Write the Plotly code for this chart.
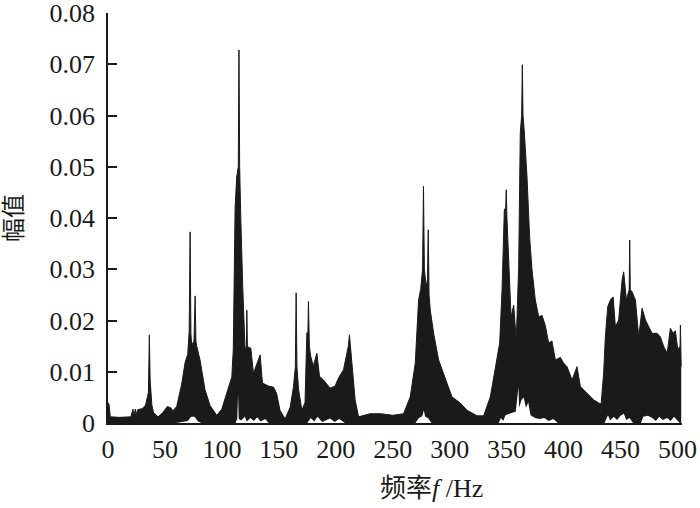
import plotly.graph_objects as go

OUTPUT_HTML = "out.html"

# upper envelope of the amplitude spectrum
freq_hz = [
    0, 1, 2, 10, 20, 22, 22.5, 24, 24.5, 26, 30, 33, 35.5, 36.3, 37, 37.5, 38.5,
    40, 44, 48, 52, 55, 57, 60.3, 64.7, 67.7, 70, 71.3, 72.1, 72.8, 73.5, 75.5,
    76.5, 77.2, 77.9, 80.8, 85.2, 89.6, 95.5, 99.9, 105.4, 108.7, 110, 111.6,
    113, 114.4, 115, 115.6, 116.6, 117.5, 118.3, 120.4, 121.5, 121.9, 122.4,
    123.3, 125.4, 127.7, 130.6, 133.6, 135.6, 140.9, 145.3, 148, 151, 155.5,
    160, 162.8, 164.5, 165.2, 165.9, 167.3, 170.2, 173, 174.6, 175.5, 176,
    176.8, 178, 180.3, 183.4, 185.7, 189.2, 195, 199.4, 202.4, 206.8, 211, 212,
    212.8, 214, 217, 220, 230, 240, 250, 259.5, 265.4, 269.8, 272.7, 274.6,
    276.2, 277, 277.8, 279.4, 280.5, 281.2, 281.9, 283, 285.9, 290.3, 292.3,
    297.6, 302, 309.3, 315.2, 324, 329.8, 335.7, 340, 343.9, 346, 348, 349.2,
    349.7, 350.3, 351.8, 353.9, 356.2, 358.5, 360.6, 362, 363.2, 363.8, 364.4,
    365.6, 367.9, 370.2, 372.3, 375.2, 378.2, 381.1, 384, 386.9, 389.8, 392.8,
    397.2, 400, 403, 407.5, 411.8, 414.8, 420.6, 426.5, 430.9, 433, 435.2,
    436.7, 438.8, 441.1, 443.5, 445.5, 448.4, 451.4, 452.8, 455.2, 457.6,
    458.1, 458.6, 460.2, 463.1, 466, 469, 471.9, 474.8, 477.7, 482.1, 485, 488,
    491, 493.8, 496.2, 498.2, 500.3, 502.3, 502.6, 503.3,
]
amplitude = [
    0.0040, 0.0035, 0.0012, 0.0011, 0.0012, 0.0027, 0.0013, 0.0027, 0.0015,
    0.0026, 0.0028, 0.0035, 0.0060, 0.0172, 0.0084, 0.0060, 0.0035, 0.0020,
    0.0012, 0.0020, 0.0032, 0.0030, 0.0024, 0.0032, 0.0076, 0.0118, 0.0134,
    0.0180, 0.0373, 0.0175, 0.0152, 0.0160, 0.0248, 0.0160, 0.0150, 0.0123,
    0.0065, 0.0034, 0.0015, 0.0027, 0.0065, 0.0090, 0.0143, 0.0420, 0.0480,
    0.0500, 0.0728, 0.0500, 0.0400, 0.0290, 0.0266, 0.0142, 0.0150, 0.0220,
    0.0150, 0.0148, 0.0146, 0.0097, 0.0117, 0.0133, 0.0078, 0.0072, 0.0070,
    0.0058, 0.0025, 0.0008, 0.0031, 0.0070, 0.0110, 0.0254, 0.0110, 0.0066,
    0.0025, 0.0040, 0.0176, 0.0176, 0.0237, 0.0150, 0.0130, 0.0111, 0.0136,
    0.0091, 0.0084, 0.0068, 0.0072, 0.0088, 0.0104, 0.0150, 0.0172, 0.0150,
    0.0123, 0.0045, 0.0012, 0.0018, 0.0018, 0.0015, 0.0018, 0.0051, 0.0117,
    0.0240, 0.0262, 0.0300, 0.0462, 0.0300, 0.0266, 0.0280, 0.0377, 0.0250,
    0.0220, 0.0175, 0.0123, 0.0110, 0.0078, 0.0051, 0.0039, 0.0025, 0.0014,
    0.0014, 0.0051, 0.0103, 0.0156, 0.0260, 0.0416, 0.0420, 0.0455, 0.0400,
    0.0312, 0.0207, 0.0230, 0.0162, 0.0305, 0.0566, 0.0600, 0.0699, 0.0600,
    0.0566, 0.0480, 0.0363, 0.0299, 0.0240, 0.0207, 0.0210, 0.0190, 0.0156,
    0.0160, 0.0123, 0.0128, 0.0117, 0.0110, 0.0084, 0.0110, 0.0071, 0.0058,
    0.0045, 0.0039, 0.0037, 0.0097, 0.0168, 0.0227, 0.0240, 0.0246, 0.0188,
    0.0201, 0.0279, 0.0295, 0.0240, 0.0260, 0.0357, 0.0260, 0.0256, 0.0240,
    0.0168, 0.0224, 0.0201, 0.0188, 0.0175, 0.0175, 0.0168, 0.0149, 0.0136,
    0.0185, 0.0175, 0.0180, 0.0143, 0.0150, 0.0191, 0.0110,
]

# lower envelope (the white gaps the dense trace leaves near the baseline)
low_freq_hz = [
    60, 70, 73, 76, 79, 82,
    112, 113.5, 114.2, 114.8, 117, 120, 122, 125, 128, 131, 134, 138, 141,
    175, 178, 181, 184, 188, 195, 199, 203, 208,
    270, 273, 276, 277.3, 278.5, 281, 284,
    343, 345, 347, 349, 352, 355, 358, 359.8, 360.4, 361, 363, 365, 367, 369,
    371, 375, 379, 383, 387, 391, 395,
    436, 439, 441, 444, 447, 450, 453, 455, 458, 461, 468, 470, 474, 478, 481,
    484, 487, 491, 494, 497, 500, 502,
]
low_amplitude = [
    0, 0.0004, 0.0012, 0.0012, 0.0003, 0,
    0, 0.0008, 0.0055, 0.0008, 0.0005, 0.0012, 0.0003, 0.0010, 0.0004, 0.0011,
    0.0003, 0.0008, 0,
    0, 0.0010, 0.0003, 0.0012, 0.0002, 0.0009, 0.0002, 0.0008, 0,
    0, 0.0010, 0.0013, 0.0025, 0.0012, 0.0010, 0,
    0, 0.0010, 0.0004, 0.0015, 0.0018, 0.0020, 0.0022, 0.0060, 0.0070, 0.0030,
    0.0045, 0.0050, 0.0030, 0.0040, 0.0015, 0.0010, 0.0008, 0.0010, 0.0004,
    0.0008, 0,
    0, 0.0015, 0.0005, 0.0012, 0.0006, 0.0014, 0.0018, 0.0006, 0.0010, 0, 0,
    0.0012, 0.0014, 0.0010, 0.0004, 0.0012, 0.0006, 0.0010, 0.0004, 0.0012,
    0.0005, 0,
]

x_ticks = [0, 50, 100, 150, 200, 250, 300, 350, 400, 450, 500]
y_ticks = [0, 0.01, 0.02, 0.03, 0.04, 0.05, 0.06, 0.07, 0.08]
y_tick_text = ["0", "0.01", "0.02", "0.03", "0.04", "0.05", "0.06", "0.07", "0.08"]

FONT = "Liberation Serif, Times New Roman, Noto Sans CJK SC, serif"


def main():
    fig = go.Figure()
    fig.add_trace(
        go.Scatter(
            x=freq_hz,
            y=amplitude,
            mode="lines",
            line=dict(color="#1a1a1a", width=1),
            fill="tozeroy",
            fillcolor="#1a1a1a",
            showlegend=False,
        )
    )
    fig.add_trace(
        go.Scatter(
            x=low_freq_hz,
            y=low_amplitude,
            mode="lines",
            line=dict(color="white", width=0),
            fill="tozeroy",
            fillcolor="white",
            showlegend=False,
        )
    )

    fig.update_layout(
        width=700,
        height=508,
        margin=dict(l=108, r=18, t=13, b=85),
        plot_bgcolor="white",
        paper_bgcolor="white",
        font=dict(family=FONT, size=26, color="#1a1a1a"),
    )
    fig.update_xaxes(
        range=[0, 504],
        tickvals=x_ticks,
        ticks="",
        showgrid=False,
        zeroline=False,
        showline=True,
        linecolor="#1a1a1a",
        linewidth=1.5,
        ticklabelstandoff=2,
        ticklabeloverflow="allow",
        automargin=False,
    )
    fig.update_yaxes(
        range=[0, 0.08],
        tickvals=y_ticks,
        ticktext=y_tick_text,
        ticks="inside",
        ticklen=9,
        tickwidth=1.5,
        tickcolor="#1a1a1a",
        showgrid=False,
        zeroline=False,
        showline=True,
        linecolor="#1a1a1a",
        linewidth=1.5,
        ticklabelstandoff=6,
        ticklabeloverflow="allow",
        automargin=False,
    )

    # axis titles placed as annotations to match the original offsets
    fig.add_annotation(
        text="频率<i>f</i> /Hz",
        xref="paper", yref="paper",
        x=0.563, y=-0.12,
        xanchor="center", yanchor="top",
        showarrow=False,
        font=dict(family=FONT, size=26),
    )
    fig.add_annotation(
        text="幅值",
        xref="paper", yref="paper",
        x=-0.19, y=0.5,
        xanchor="left", yanchor="middle",
        textangle=-90,
        showarrow=False,
        font=dict(family=FONT, size=24),
    )

    # the page body has a default 8px margin; drop it so the figure sits at 0,0
    fig.write_html(
        OUTPUT_HTML,
        config={"displayModeBar": False},
        post_script="document.body.style.margin='0';",
    )


if __name__ == "__main__":
    main()
